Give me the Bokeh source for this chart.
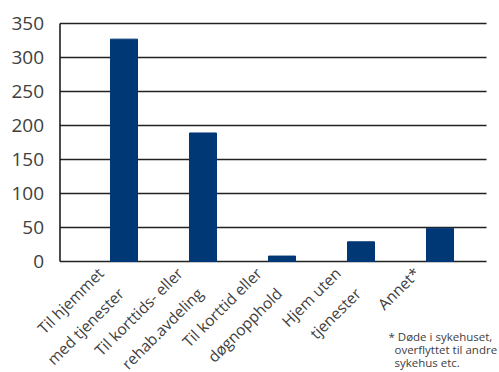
import math
from bokeh.plotting import figure
from bokeh.models import Label, Range1d
from bokeh.core.properties import value
from bokeh.embed import file_html
from bokeh.resources import INLINE

categories = ["Til hjemmet\nmed tjenester", "Til korttids- eller\nrehab.avdeling",
              "Til korttid eller\ndøgnopphold", "Hjem uten\ntjenester", "Annet*"]
values = [327, 189, 8, 29, 49]
y_ticks = [0, 50, 100, 150, 200, 250, 300, 350]
y_tick_labels = [str(t) for t in y_ticks]
footnote = "*\u00a0Døde i sykehuset,\n\u00a0\u00a0overflyttet til andre\n\u00a0\u00a0sykehus etc."

FONT = "Open Sans"
TXT = "#404040"
BAR = "#003775"
GRID = "#222222"

# the frame covers the whole canvas so rotated labels / footnote are not clipped
X_START, X_END = -1.563, 4.753
Y_START, Y_END = -163.2, 383.8
AXIS_X = -0.810                  # where the value axis sits
GRID_END = 4.589                 # gridlines stop a little before the edge

xs = list(range(len(categories)))

p = figure(width=499, height=372, output_backend="svg", toolbar_location=None,
           x_range=Range1d(X_START, X_END), y_range=Range1d(Y_START, Y_END),
           min_border=0)
p.outline_line_color = None
p.background_fill_color = "white"
p.border_fill_color = "white"
p.xgrid.visible = False
p.ygrid.visible = False
p.xaxis.visible = False
p.yaxis.visible = False

# gridlines
p.segment(x0=[AXIS_X] * len(y_ticks), x1=[GRID_END] * len(y_ticks),
          y0=y_ticks, y1=y_ticks, line_color=GRID, line_width=1.3)

# bars
p.vbar(x=xs, top=values, width=0.342, color=BAR)

# value axis line and its tick labels
p.segment(x0=[AXIS_X], x1=[AXIS_X], y0=[y_ticks[0]], y1=[y_ticks[-1]],
          line_color="#111111", line_width=1.5)
p.text(x=[AXIS_X] * len(y_ticks), y=y_ticks, text=y_tick_labels,
       text_align="right", text_baseline="middle", x_offset=-16,
       text_font=value(FONT), text_font_size="19px", text_color=TXT)

# category labels
p.text(x=xs, y=[0] * len(xs), text=categories, angle=math.pi / 4,
       text_align="right", text_baseline="top", x_offset=-31, y_offset=1,
       text_font=value(FONT), text_font_size="15.5px", text_color=TXT,
       text_line_height=1.3)

p.add_layout(Label(x=388, y=44, x_units="screen", y_units="screen", text=footnote,
                   text_font=FONT, text_font_size="11.5px", text_color=TXT,
                   text_baseline="top", text_line_height=0.88))

open("out.html", "w").write(file_html(p, INLINE))
